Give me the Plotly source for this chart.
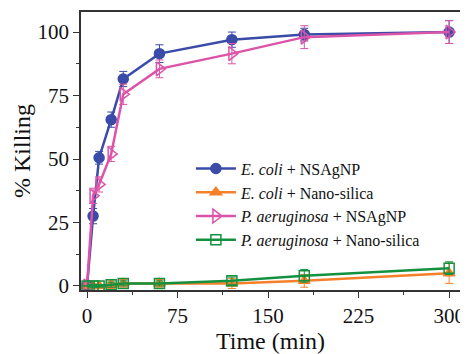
import plotly.graph_objects as go

time = [0, 5, 10, 20, 30, 60, 120, 180, 300]
ecoli_ag = [0, 27.5, 50.5, 65.5, 81.5, 91.5, 97, 99, 100]
ecoli_ag_err = [0, 3, 2.5, 3, 3, 3.5, 3, 2.5, 4.5]
ecoli_si = [0, 0, 0, 0.5, 1, 1, 1, 2, 5]
ecoli_si_err = [0, 0.5, 0.5, 1.5, 1.5, 1.5, 2, 2.5, 4]
paer_ag = [0, 35.5, 40, 52, 75.5, 85.5, 91.5, 98, 100]
paer_ag_err = [0, 3, 3, 3, 4, 3.5, 4, 4.5, 4.5]
paer_si = [0, 0, 0, 0.5, 1, 1, 2, 4, 7]
paer_si_err = [0, 0.5, 0.5, 1, 1, 1, 1.5, 2.5, 2.5]

names = ["<i>E. coli</i> + NSAgNP", "<i>E. coli</i> + Nano-silica",
         "<i>P. aeruginosa</i> + NSAgNP", "<i>P. aeruginosa</i> + Nano-silica"]
colors = ["#3A4BA8", "#F5802A", "#DC54A8", "#14913F"]
symbols = ["circle", "triangle-up", "triangle-right-open", "square-open"]
sizes = [10, 10, 12, 10]
ys = [ecoli_ag, ecoli_si, paer_ag, paer_si]
errs = [ecoli_ag_err, ecoli_si_err, paer_ag_err, paer_si_err]

SERIF = "Liberation Serif"

fig = go.Figure()
for i in range(4):
    fig.add_trace(go.Scatter(
        x=time, y=ys[i], name=names[i], mode="lines+markers",
        line=dict(color=colors[i], width=2.5),
        marker=dict(symbol=symbols[i], size=sizes[i], color=colors[i],
                    line=dict(color=colors[i], width=1.5)),
        error_y=dict(type="data", array=errs[i], color=colors[i], thickness=1, width=4),
    ))

axis_common = dict(showline=True, linecolor="#333", linewidth=1.5, mirror=True,
                   ticks="outside", ticklen=6, tickwidth=1.2, tickcolor="#333",
                   showgrid=False, zeroline=False, automargin=False,
                   tickfont=dict(family=SERIF, size=21, color="#111"),
                   minor=dict(ticks="outside", ticklen=3, tickcolor="#333", tickwidth=1))

fig.update_xaxes(range=[-5, 309], tickvals=[0, 75, 150, 225, 300],
                 minor_tickvals=[37.5, 112.5, 187.5, 262.5],
                 title=dict(text="Time (min)", font=dict(family=SERIF, size=24, color="#111"), standoff=3),
                 **axis_common)
fig.update_yaxes(range=[-1.6, 107.9], tickvals=[0, 25, 50, 75, 100],
                 minor_tickvals=[12.5, 37.5, 62.5, 87.5],
                 title=dict(text="% Killing", font=dict(family=SERIF, size=24, color="#111"), standoff=0),
                 **axis_common)

# page body has an 8px default margin, so shift the figure up/left via margins
fig.update_layout(
    width=468, height=354,
    font=dict(family=SERIF, color="#111"),
    margin=dict(l=73, r=16, t=4, b=72),
    paper_bgcolor="white", plot_bgcolor="white",
    showlegend=True,
    legend=dict(x=0.29, y=0.498, xanchor="left", yanchor="top",
                font=dict(family=SERIF, size=16, color="#111"),
                bgcolor="rgba(0,0,0,0)", tracegroupgap=0, itemwidth=40),
)

fig.write_html("out.html")
